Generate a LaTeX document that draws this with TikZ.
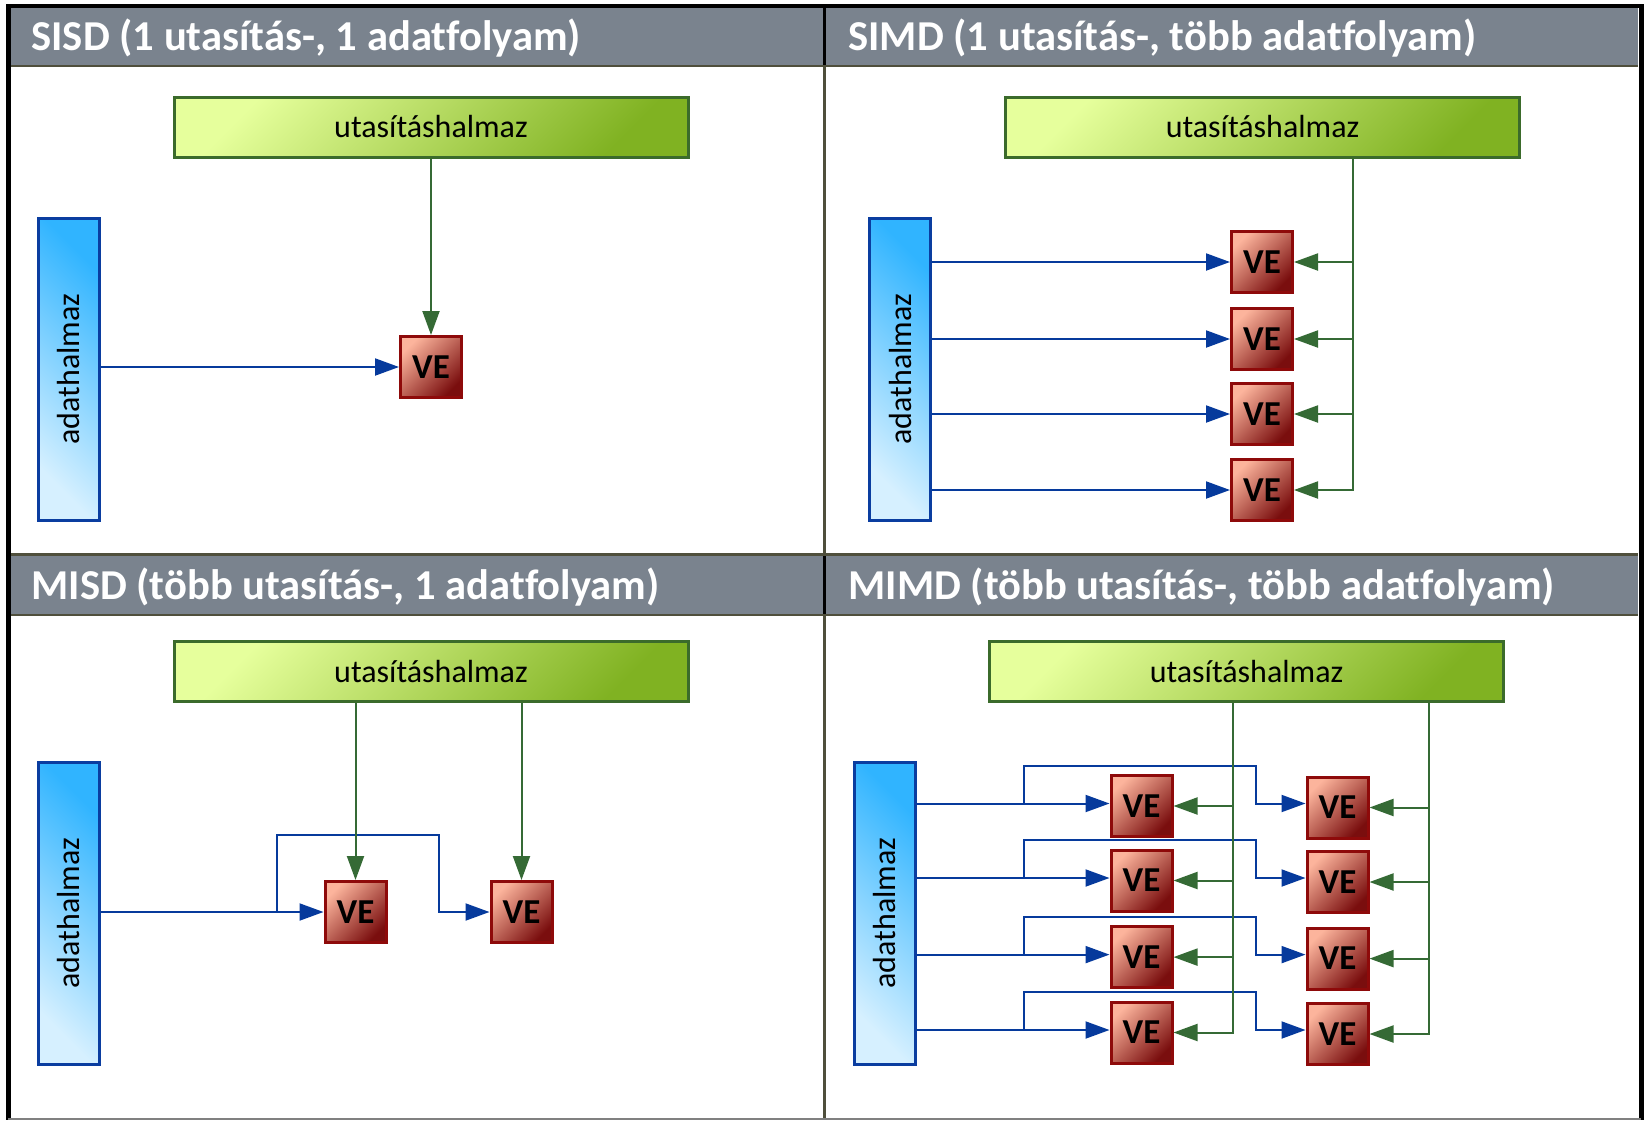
\documentclass[tikz,border=0pt]{standalone}
\usepackage{fontspec}
\setmainfont{Carlito}[Ligatures=NoCommon]
\usetikzlibrary{arrows.meta}

\definecolor{hdr}{HTML}{7A838E}
\definecolor{rule}{HTML}{4F4F3C}
\definecolor{dblue}{HTML}{063A9C}
\definecolor{igreen}{HTML}{356A35}
\definecolor{instlight}{HTML}{E6FF9C}
\definecolor{instdark}{HTML}{80B222}
\definecolor{instborder}{HTML}{3B6B2B}
\definecolor{datalight}{HTML}{D6F0FF}
\definecolor{datadark}{HTML}{30B4FF}
\definecolor{databorder}{HTML}{0A3DA0}
\definecolor{pelight}{HTML}{FCB49C}
\definecolor{pedark}{HTML}{7A0E0E}
\definecolor{peborder}{HTML}{8E0A0A}

\begin{document}
\begin{tikzpicture}[x=0.5pt,y=-0.5pt,
  hdrtext/.style={anchor=base west, text=white, inner sep=0,
    font=\fontsize{21.3}{24}\selectfont\bfseries},
  instbox/.style={draw=instborder, line width=1.5pt, top color=instlight,
    bottom color=instdark, shading angle=45, minimum width=257pt,
    minimum height=30pt, inner sep=0, font=\fontsize{16}{18}\selectfont},
  databox/.style={draw=databorder, line width=1.5pt, top color=datadark,
    bottom color=datalight, shading angle=-45, minimum width=30.5pt,
    minimum height=151pt, inner sep=0, font=\fontsize{16}{18}\selectfont},
  pe/.style={draw=peborder, line width=1.5pt, top color=pelight,
    bottom color=pedark, shading angle=45, minimum size=30.5pt, inner sep=0,
    font=\fontsize{17.5}{20}\selectfont\bfseries},
  dline/.style={draw=dblue, line width=1pt, -{Triangle[length=12pt,width=8.5pt]}},
  iline/.style={draw=igreen, line width=1pt, -{Triangle[length=12pt,width=8.5pt]}},
]
\useasboundingbox (0,0) rectangle (1645,1120);
\fill[white] (0,0) rectangle (1645,1120);

% header bands
\fill[hdr] (10,8) rectangle (1638,65);
\fill[hdr] (10,556) rectangle (1638,614);
\draw[rule, line width=1.2pt] (10,66) -- (1638,66);
\draw[rule, line width=1.2pt] (10,554.5) -- (1638,554.5);
\draw[rule, line width=1.2pt] (10,615) -- (1638,615);
% column divider
\draw[rule, line width=1.2pt] (824.5,8) -- (824.5,1120);
\draw[black, line width=1.2pt] (824.5,8) -- (824.5,65);
\draw[black, line width=1.2pt] (824.5,556) -- (824.5,614);
% outer frame
\draw[black, line width=2pt] (8,6) -- (1641,6);
\draw[black, line width=2.5pt] (8,4) -- (8,1120);
\draw[black, line width=2.5pt] (1641,4) -- (1641,1120);
\draw[gray, line width=1pt] (8,1119) -- (1641,1119);

% titles
\node[hdrtext] (t1) at (31,50) {SISD (1 utasítás-, 1 adatfolyam)};
\node[hdrtext] (t2) at (848,50) {SIMD (1 utasítás-, több adatfolyam)};
\node[hdrtext] (t3) at (31,599) {MISD (több utasítás-, 1 adatfolyam)};
\node[hdrtext] (t4) at (848,599) {MIMD (több utasítás-, több adatfolyam)};

% ---------- SISD ----------
\node[instbox] (i1) at (431,127) {utasításhalmaz};
\node[databox] (d1) at (68.5,369) {\rotatebox{90}{adathalmaz}};
\node[pe] (p1) at (431,367) {VE};
\draw[dline] (p1.west -| d1.east) -- (p1.west);
\draw[iline] (i1.south -| p1) -- (p1.north);

% ---------- SIMD ----------
\node[instbox] (i2) at (1262.5,127) {utasításhalmaz};
\node[databox] (d2) at (900,369) {\rotatebox{90}{adathalmaz}};
\coordinate (g2) at (1353,127);
\foreach \k/\r in {1/262,2/339,3/414,4/490}{
  \node[pe] (s\k) at (1262,\r) {VE};
  \draw[dline] (s\k.west -| d2.east) -- (s\k.west);
}
\draw[iline] (i2.south -| g2) |- (s4.east);
\foreach \k in {1,2,3}{
  \draw[iline] (g2 |- s\k.east) -- (s\k.east);
}

% ---------- MISD ----------
\node[instbox] (i3) at (431,671.5) {utasításhalmaz};
\node[databox] (d3) at (68.5,913) {\rotatebox{90}{adathalmaz}};
\node[pe] (m1) at (355.5,912) {VE};
\node[pe] (m2) at (521.5,912) {VE};
\coordinate (mb) at (277,835);
\coordinate (mc) at (438.5,835);
\draw[dline] (m1.west -| d3.east) -- (m1.west);
\draw[dline] (m1.west -| mb) -- (mb) -- (mc) |- (m2.west);
\draw[iline] (i3.south -| m1) -- (m1.north);
\draw[iline] (i3.south -| m2) -- (m2.north);

% ---------- MIMD ----------
\node[instbox] (i4) at (1246.5,671.5) {utasításhalmaz};
\node[databox] (d4) at (884.5,913) {\rotatebox{90}{adathalmaz}};
\coordinate (ga) at (1232.6,702);
\coordinate (gb) at (1428.7,702);
\foreach \k/\r in {1/803.5,2/878,3/954.6,4/1030}{
  \node[pe] (a\k) at (1141.5,\r+2.5) {VE};
  \node[pe] (b\k) at (1337.5,\r+4) {VE};
  \coordinate (r\k) at (884.5,\r);
  \coordinate (u\k) at (1024,\r-37.7);
  \coordinate (v\k) at (1255.7,\r-37.7);
  \draw[dline] (d4.east |- r\k) -- (a\k.west |- r\k);
  \draw[dline] (u\k |- r\k) -- (u\k) -- (v\k) |- (b\k.west |- r\k);
}
\draw[iline] (i4.south -| ga) |- (a4.east);
\draw[iline] (i4.south -| gb) |- (b4.east);
\foreach \k in {1,2,3}{
  \draw[iline] (ga |- a\k.east) -- (a\k.east);
  \draw[iline] (gb |- b\k.east) -- (b\k.east);
}
\end{tikzpicture}
\end{document}
